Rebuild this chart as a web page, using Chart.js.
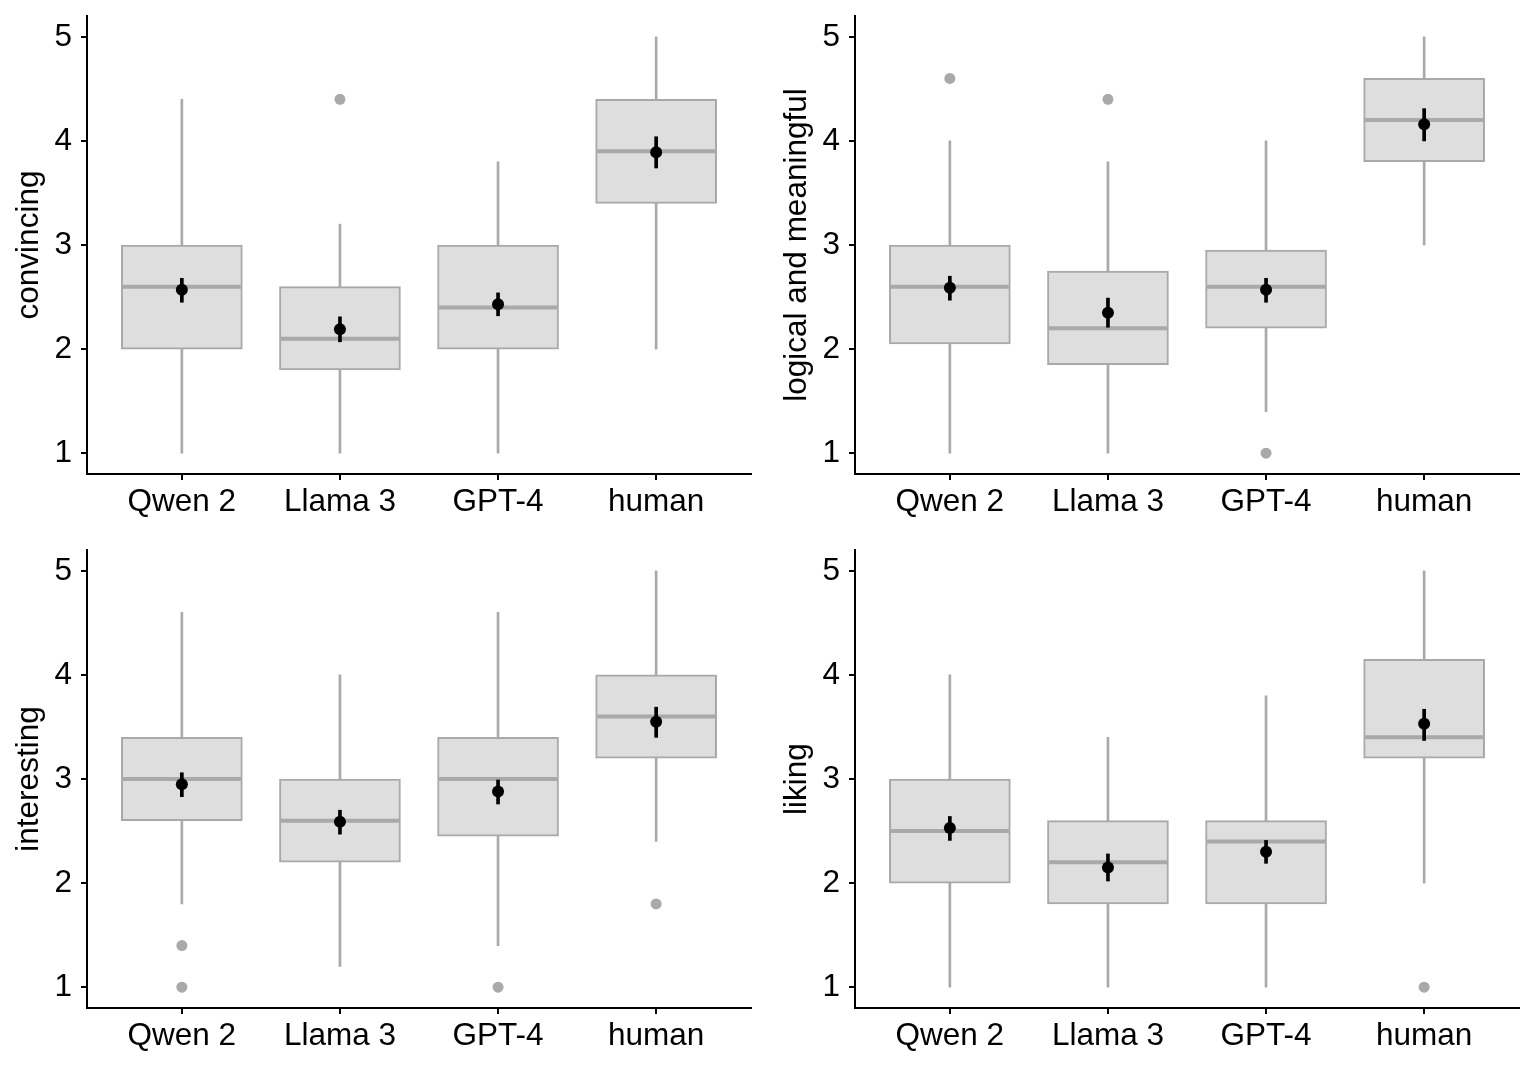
<!DOCTYPE html>
<html>
<head>
<meta charset="utf-8">
<script src="https://cdn.jsdelivr.net/npm/chart.js@4.4.1/dist/chart.umd.min.js"></script>
<style>
  html, body { margin: 0; padding: 0; background: #fff; }
  #wrap { position: relative; width: 1535px; height: 1068px; }
  .panel { position: absolute; width: 767px; height: 534px; }
  .panel canvas { display: block; }
</style>
</head>
<body>
<div id="wrap">
  <div class="panel" style="left:0;top:0"><canvas id="c0" width="767" height="534"></canvas></div>
  <div class="panel" style="left:768px;top:0"><canvas id="c1" width="767" height="534"></canvas></div>
  <div class="panel" style="left:0;top:534px"><canvas id="c2" width="767" height="534"></canvas></div>
  <div class="panel" style="left:768px;top:534px"><canvas id="c3" width="767" height="534"></canvas></div>
</div>
<script>
const categories = ['Qwen 2', 'Llama 3', 'GPT-4', 'human'];
const panelTitles = ['convincing', 'logical and meaningful', 'interesting', 'liking'];
const yTicks = [1, 2, 3, 4, 5];

// one row per panel, one value per category
const whiskerLow = [
  [1, 1, 1, 2],
  [1, 1, 1.4, 3],
  [1.8, 1.2, 1.4, 2.4],
  [1, 1, 1, 2]
];
const q1 = [
  [2, 1.8, 2, 3.4],
  [2.05, 1.85, 2.2, 3.8],
  [2.6, 2.2, 2.45, 3.2],
  [2, 1.8, 1.8, 3.2]
];
const median = [
  [2.6, 2.1, 2.4, 3.9],
  [2.6, 2.2, 2.6, 4.2],
  [3, 2.6, 3, 3.6],
  [2.5, 2.2, 2.4, 3.4]
];
const q3 = [
  [3, 2.6, 3, 4.4],
  [3, 2.75, 2.95, 4.6],
  [3.4, 3, 3.4, 4],
  [3, 2.6, 2.6, 4.15]
];
const whiskerHigh = [
  [4.4, 3.2, 3.8, 5],
  [4, 3.8, 4, 5],
  [4.6, 4, 4.6, 5],
  [4, 3.4, 3.8, 5]
];
const outliers = [
  [[], [4.4], [], []],
  [[4.6], [4.4], [1], []],
  [[1.4, 1], [], [1], [1.8]],
  [[], [], [], [1]]
];
const mean = [
  [2.57, 2.19, 2.43, 3.89],
  [2.59, 2.35, 2.57, 4.16],
  [2.95, 2.59, 2.88, 3.55],
  [2.53, 2.15, 2.3, 3.53]
];
const seLow = [
  [2.45, 2.07, 2.32, 3.74],
  [2.47, 2.21, 2.45, 4.0],
  [2.83, 2.47, 2.76, 3.4],
  [2.41, 2.02, 2.19, 3.37]
];
const seHigh = [
  [2.68, 2.31, 2.54, 4.04],
  [2.70, 2.49, 2.68, 4.31],
  [3.06, 2.70, 2.99, 3.69],
  [2.64, 2.28, 2.41, 3.67]
];

const gray = '#a9a9a9';
const fill = '#dedede';
const font = { family: "'Liberation Sans', Arial, sans-serif", size: 31.5 };

function pts(arr) {
  return arr.map((v, i) => ({ x: i + 1, y: v }));
}
function ranges(lo, hi) {
  return lo.map((v, i) => ({ x: i + 1, y: [v, hi[i]] }));
}

function makeChart(id, p) {
  const outlierPts = [];
  outliers[p].forEach((list, i) => list.forEach(v => outlierPts.push({ x: i + 1, y: v })));

  const axisGrid = { drawOnChartArea: false, drawTicks: true, tickLength: 6, color: '#000', lineWidth: 2, offset: false };
  const axisBorder = { display: true, color: '#000', width: 2 };

  new Chart(document.getElementById(id), {
    type: 'bar',
    data: {
      datasets: [
        { type: 'line', data: pts(mean[p]), showLine: false, pointRadius: 6,
          pointBackgroundColor: '#000', pointBorderWidth: 0, order: 0 },
        { type: 'bar', data: ranges(seLow[p], seHigh[p]), backgroundColor: '#000',
          barThickness: 3, grouped: false, order: 1 },
        { type: 'line', data: pts(median[p]), showLine: false, pointStyle: 'line',
          pointRadius: 59, pointBorderWidth: 4, pointBorderColor: gray, order: 2 },
        { type: 'line', data: outlierPts, showLine: false, pointRadius: 5.5,
          pointBackgroundColor: gray, pointBorderWidth: 0, order: 3 },
        { type: 'bar', data: ranges(q1[p], q3[p]), backgroundColor: fill, borderColor: gray,
          borderWidth: 2, borderSkipped: false, barThickness: 121, grouped: false, order: 4 },
        { type: 'bar', data: ranges(whiskerLow[p], whiskerHigh[p]), backgroundColor: gray,
          barThickness: 2, grouped: false, order: 5 }
      ]
    },
    options: {
      responsive: false,
      animation: false,
      events: [],
      layout: { autoPadding: false, padding: { top: 16, right: 16, left: 0, bottom: 0 } },
      plugins: { legend: { display: false }, tooltip: { enabled: false } },
      scales: {
        x: {
          type: 'linear', min: 0.4, max: 4.6, offset: false,
          afterBuildTicks: s => { s.ticks = categories.map((c, i) => ({ value: i + 1 })); },
          afterFit: s => { s.height = 60; s.paddingLeft = 0; s.paddingRight = 0; },
          ticks: {
            font: font, color: '#000', padding: 3, maxRotation: 0, autoSkip: false,
            callback: v => categories[Math.round(v) - 1] || ''
          },
          grid: axisGrid,
          border: axisBorder
        },
        y: {
          type: 'linear', min: 0.8, max: 5.2,
          afterBuildTicks: s => { s.ticks = yTicks.map(v => ({ value: v })); },
          afterFit: s => { s.width = 87; s.paddingTop = 0; s.paddingBottom = 0; },
          ticks: { font: font, color: '#000', padding: 9 },
          title: { display: true, text: panelTitles[p], font: font, color: '#000', padding: { top: 10, bottom: 0 } },
          grid: axisGrid,
          border: axisBorder
        }
      }
    }
  });
}

[0, 1, 2, 3].forEach(p => makeChart('c' + p, p));
</script>
</body>
</html>
